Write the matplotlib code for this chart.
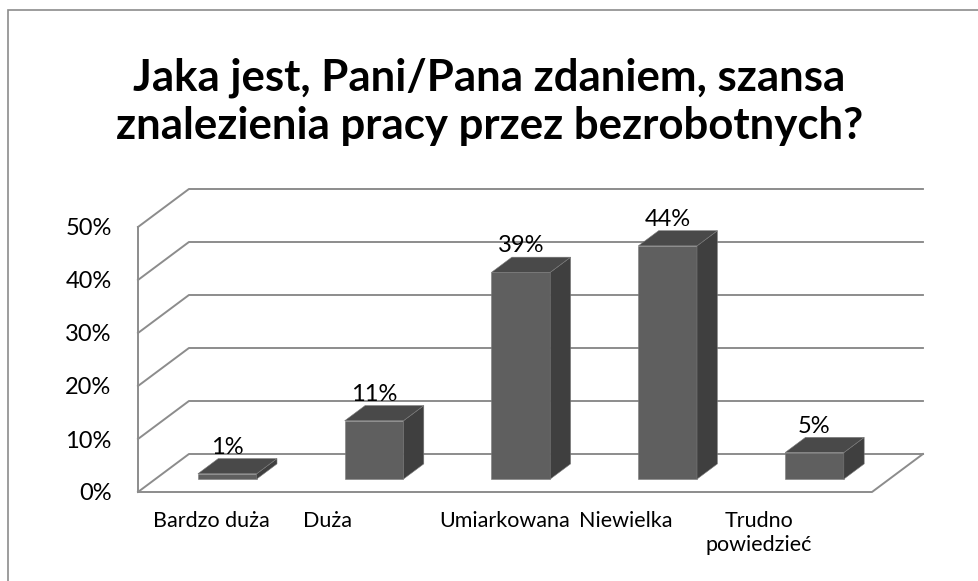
import numpy as np
import matplotlib
matplotlib.use('Agg')
import matplotlib.pyplot as plt
from matplotlib.patches import Polygon, Rectangle
from matplotlib.lines import Line2D

plt.rcParams['font.family'] = ['Lato', 'DejaVu Sans']

title = 'Jaka jest, Pani/Pana zdaniem, szansa\nznalezienia pracy przez bezrobotnych?'
categories = ['Bardzo duża', 'Duża', 'Umiarkowana', 'Niewielka', 'Trudno\npowiedzieć']
values = [1, 11, 39, 44, 5]
yticks = [0, 10, 20, 30, 40, 50]

# pseudo-3d geometry (data units)
DX, DY = 0.347, 7.17        # full depth offset of the floor / walls
F0, F1 = 0.34, 0.74         # bar front / back as fraction of depth
BAR_W = 0.40
# excel nudges some category labels to the left
LABEL_SHIFT = [0, -0.21, 0, -0.18, -0.27]
GRID = '#8c8c8c'
FRONT, SIDE, TOP = '#5f5f5f', '#3f3f3f', '#494949'

W, H = 979, 581
fig = plt.figure(figsize=(W / 100, H / 100), dpi=100)
ax = fig.add_axes([138 / W, 1 - 492 / H, 734 / W, 265 / H])
n = len(categories)
ax.set_xlim(0, n)
ax.set_ylim(0, 50)

# chart frame (only left and top edges are in view)
fig.add_artist(Rectangle((8 / W, -0.5), 2, 1.5 - 10 / H, transform=fig.transFigure,
                         fill=False, edgecolor=GRID, lw=1.2))

# walls, floor and gridlines
for t in yticks:
    ax.add_line(Line2D([0, DX, n + DX], [t, t + DY, t + DY], color=GRID, lw=1.4,
                       clip_on=False, zorder=1))
ax.add_line(Line2D([0, 0], [50, 0], color=GRID, lw=1.4, clip_on=False, zorder=1))
ax.add_line(Line2D([0, n, n + DX], [0, 0, DY], color=GRID, lw=1.4, clip_on=False, zorder=1))

# bars
bdx, bdy = (F1 - F0) * DX, (F1 - F0) * DY
for i, v in enumerate(values):
    x0 = i + 0.49 - BAR_W / 2 + F0 * DX
    y0 = F0 * DY
    x1, y1 = x0 + BAR_W, y0 + v
    front = [(x0, y0), (x1, y0), (x1, y1), (x0, y1)]
    side = [(x1, y0), (x1 + bdx, y0 + bdy), (x1 + bdx, y1 + bdy), (x1, y1)]
    top = [(x0, y1), (x1, y1), (x1 + bdx, y1 + bdy), (x0 + bdx, y1 + bdy)]
    for pts, c in ((front, FRONT), (side, SIDE), (top, TOP)):
        ax.add_patch(Polygon(pts, closed=True, facecolor=c, edgecolor='#7a7a7a',
                             lw=0.4, clip_on=False, zorder=3))
    ax.annotate(f'{v}%', (x0 + BAR_W / 2, y1 + bdy), xytext=(0, 3.5),
                textcoords='offset points', ha='center', va='baseline',
                fontsize=17, color='black', annotation_clip=False, zorder=4)

ax.set_yticks(yticks)
ax.set_yticklabels([f'{t}%' for t in yticks])
ax.set_xticks(np.arange(n) + 0.5 + np.array(LABEL_SHIFT))
ax.set_xticklabels(categories)
ax.tick_params(axis='y', length=0, pad=19, labelsize=17)
ax.tick_params(axis='x', length=0, pad=14, labelsize=15.5)
for s in ax.spines.values():
    s.set_visible(False)
ax.patch.set_visible(False)

fig.text(0.5, 1 - 102 / H, title, ha='center', va='center', fontsize=31.5,
         fontweight='bold', linespacing=1.25)

fig.savefig('out.png', dpi=100)
